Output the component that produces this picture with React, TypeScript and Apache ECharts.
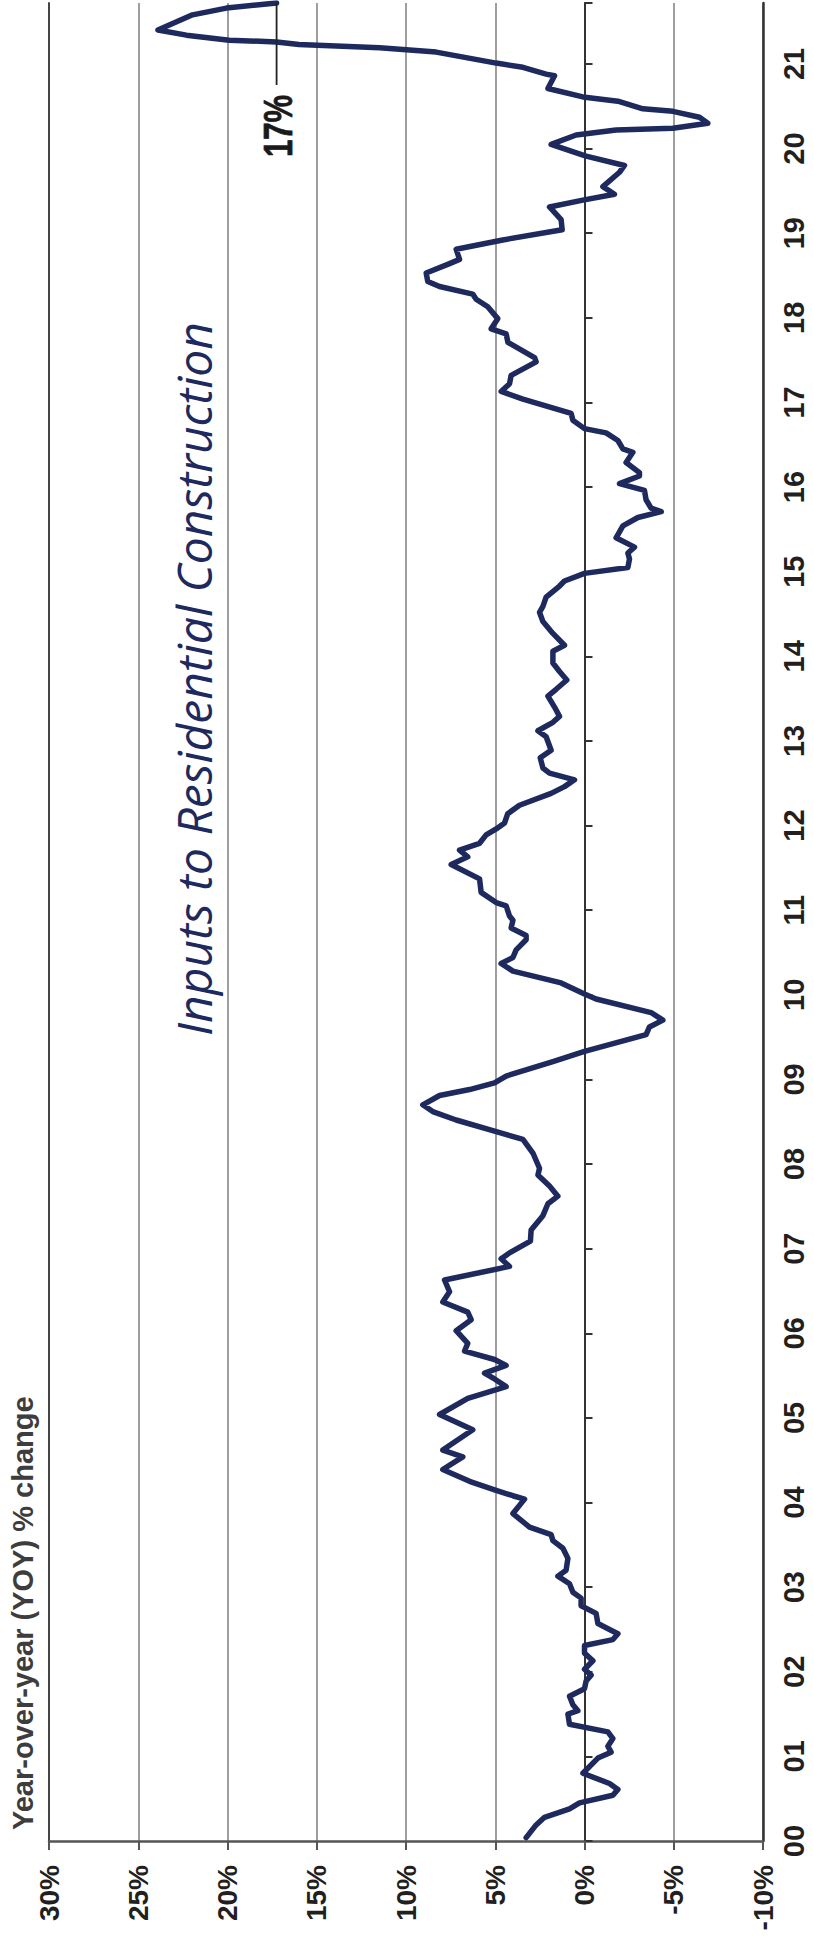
import { useEffect, useRef } from "react";
import * as echarts from "echarts";

// Decimal year of each observation (time runs bottom -> top in the picture)
const months: number[] = [
  2000.04, 2000.19, 2000.28, 2000.38, 2000.45, 2000.54, 2000.61, 2000.68, 2000.8, 2000.98,
  2001.05, 2001.12, 2001.21, 2001.29, 2001.38, 2001.5, 2001.54, 2001.61, 2001.71, 2001.8,
  2001.89, 2001.96, 2002.03, 2002.13, 2002.22, 2002.31, 2002.38, 2002.45, 2002.5, 2002.57,
  2002.69, 2002.78, 2002.87, 2002.94, 2003.04, 2003.13, 2003.2, 2003.34, 2003.46, 2003.55,
  2003.62, 2003.71, 2003.87, 2004.04, 2004.08, 2004.15, 2004.25, 2004.39, 2004.54, 2004.62,
  2004.86, 2005.04, 2005.23, 2005.37, 2005.46, 2005.53, 2005.62, 2005.69, 2005.79, 2005.88,
  2006.03, 2006.16, 2006.25, 2006.37, 2006.49, 2006.63, 2006.79, 2006.88, 2006.95, 2007.09,
  2007.22, 2007.39, 2007.53, 2007.62, 2007.74, 2007.87, 2007.95, 2008.13, 2008.29, 2008.39,
  2008.52, 2008.62, 2008.7, 2008.81, 2008.88, 2008.96, 2009.04, 2009.21, 2009.33, 2009.53,
  2009.62, 2009.7, 2009.79, 2009.95, 2010.01, 2010.14, 2010.28, 2010.37, 2010.44, 2010.53,
  2010.65, 2010.7, 2010.79, 2010.88, 2010.93, 2011.05, 2011.09, 2011.21, 2011.37, 2011.54,
  2011.63, 2011.71, 2011.79, 2011.89, 2011.96, 2012.03, 2012.14, 2012.24, 2012.38, 2012.46,
  2012.54, 2012.62, 2012.68, 2012.8, 2012.89, 2013.05, 2013.12, 2013.22, 2013.29, 2013.4,
  2013.53, 2013.61, 2013.72, 2013.82, 2013.92, 2014.06, 2014.13, 2014.27, 2014.41, 2014.52,
  2014.59, 2014.7, 2014.83, 2014.89, 2014.98, 2015.05, 2015.15, 2015.22, 2015.29, 2015.4,
  2015.54, 2015.64, 2015.71, 2015.75, 2015.85, 2015.96, 2016.04, 2016.13, 2016.17, 2016.29,
  2016.41, 2016.45, 2016.55, 2016.64, 2016.69, 2016.79, 2016.87, 2017.04, 2017.13, 2017.22,
  2017.32, 2017.48, 2017.53, 2017.71, 2017.81, 2017.87, 2017.99, 2018.13, 2018.22, 2018.28,
  2018.37, 2018.43, 2018.53, 2018.64, 2018.69, 2018.81, 2018.92, 2019.04, 2019.16, 2019.31,
  2019.39, 2019.46, 2019.55, 2019.72, 2019.8, 2019.91, 2019.97, 2020.05, 2020.16, 2020.22,
  2020.24, 2020.3, 2020.37, 2020.44, 2020.47, 2020.56, 2020.61, 2020.71, 2020.86, 2020.88,
  2020.96, 2021.01, 2021.14, 2021.19, 2021.23, 2021.26, 2021.28, 2021.34, 2021.4, 2021.58,
  2021.66, 2021.72,
];

// Year-over-year % change, one value per entry of `months`
const yoyChange: number[] = [
  3.27, 2.71, 2.24, 0.84, 0.28, -1.59, -1.87, -1.4, 0.09, -0.75,
  -1.49, -1.31, -1.59, -1.31, 0.84, 0.93, 0.37, 0.65, 0.84, 0.0,
  -0.09, -0.37, 0.0, -0.47, 0.0, 0.0, -1.59, -1.87, -1.4, -0.75,
  -0.65, 0.19, 0.19, 0.65, 0.84, 1.49, 1.03, 0.93, 1.21, 1.77,
  1.87, 3.08, 4.01, 3.36, 4.01, 5.04, 6.44, 7.94, 6.82, 7.94,
  6.26, 8.12, 6.54, 4.39, 5.04, 5.6, 4.39, 5.04, 6.72, 6.54,
  7.19, 6.35, 6.54, 7.94, 7.56, 7.84, 4.2, 4.67, 4.2, 3.03,
  2.99, 2.33, 2.05, 1.49, 1.96, 2.61, 2.52, 2.89, 3.45, 5.04,
  7.19, 8.5, 9.06, 8.12, 6.44, 5.04, 4.39, 1.77, 0.0, -3.45,
  -3.64, -4.39, -3.73, -0.65, 0.0, 1.31, 4.01, 4.67, 4.01, 3.83,
  3.27, 3.27, 4.11, 4.01, 4.2, 4.39, 4.95, 5.79, 5.88, 7.47,
  6.54, 7.0, 5.88, 5.51, 4.95, 4.48, 4.3, 3.64, 1.87, 1.12,
  0.56, 1.96, 2.33, 2.48, 1.87, 2.15, 2.61, 1.77, 1.4, 1.68,
  2.05, 1.59, 0.99, 1.4, 1.77, 1.77, 1.12, 1.77, 2.33, 2.52,
  2.33, 2.15, 1.4, 1.12, 0.0, -2.43, -2.52, -2.43, -2.8, -1.77,
  -2.15, -2.99, -4.3, -3.73, -3.45, -3.36, -1.96, -3.08, -3.08, -2.33,
  -2.71, -2.15, -1.87, -1.21, 0.0, 0.65, 0.75, 3.45, 4.67, 4.2,
  4.11, 2.71, 2.8, 4.29, 4.39, 5.23, 4.86, 5.42, 6.07, 6.26,
  8.12, 8.78, 8.87, 7.56, 7.0, 7.19, 4.58, 1.25, 1.31, 1.96,
  0.09, -1.68, -1.03, -1.96, -2.24, -0.09, 0.75, 1.87, 0.47, -1.77,
  -4.95, -6.91, -6.44, -4.95, -3.27, -1.87, 0.09, 2.05, 1.68, 2.15,
  3.45, 4.95, 8.31, 11.48, 16.0, 17.25, 19.9, 22.3, 23.9, 21.96,
  20.06, 17.25,
];

const percentRange = [-10, 30];
const percentStep = 5;
const yearRange = [2000, 2021.72];

const titleText = "Year-over-year (YOY) % change";
const seriesTitle = "Inputs to Residential Construction";

const LABEL_FONT = "'Liberation Sans', Arial, sans-serif";
const LINE_COLOR = "#1e2a5e";

export default function App() {
  const ref = useRef<HTMLDivElement>(null);

  useEffect(() => {
    if (!ref.current) return;
    const chart = echarts.init(ref.current, undefined, { renderer: "svg" });
    const data = months.map((t, i) => [yoyChange[i], t]);

    const yearFmt = (v: number) =>
      Math.abs(v - Math.round(v)) < 1e-6 ? String(Math.round(v) % 100).padStart(2, "0") : "";

    chart.setOption({
      animation: false,
      backgroundColor: "#ffffff",
      grid: { left: 49, right: 51, top: 0, bottom: 103, containLabel: false },
      xAxis: {
        type: "value",
        min: percentRange[0],
        max: percentRange[1],
        interval: percentStep,
        inverse: true,
        position: "bottom",
        axisLine: { show: true, onZero: false, lineStyle: { color: "#555555", width: 2.5 } },
        axisTick: { show: true, length: 9, lineStyle: { color: "#555555", width: 2 } },
        axisLabel: {
          rotate: 90,
          margin: 24,
          formatter: (v: number) => `${v}%`,
          fontFamily: LABEL_FONT,
          fontWeight: "bold",
          fontSize: 28,
          color: "#231f20",
        },
        splitLine: { show: true, lineStyle: { color: "#8e8e8e", width: 1.7 } },
      },
      yAxis: [
        {
          type: "value",
          min: yearRange[0],
          max: yearRange[1],
          interval: 1,
          position: "right",
          axisLine: { show: true, onZero: true, lineStyle: { color: "#333333", width: 2 } },
          axisTick: { show: true, length: 8, lineStyle: { color: "#333333", width: 2 } },
          axisLabel: { show: false },
          splitLine: { show: false },
        },
        {
          type: "value",
          min: yearRange[0],
          max: yearRange[1],
          interval: 1,
          position: "right",
          axisLine: { show: true, onZero: false, lineStyle: { color: "#333333", width: 2.5 } },
          axisTick: { show: false },
          axisLabel: {
            rotate: 90,
            margin: 16,
            formatter: yearFmt,
            fontFamily: LABEL_FONT,
            fontWeight: "bold",
            fontSize: 29,
            color: "#231f20",
          },
          splitLine: { show: false },
        },
        {
          type: "value",
          min: yearRange[0],
          max: yearRange[1],
          position: "left",
          axisLine: { show: true, onZero: false, lineStyle: { color: "#444444", width: 2 } },
          axisTick: { show: false },
          axisLabel: { show: false },
          splitLine: { show: false },
        },
      ],
      series: [
        {
          type: "line",
          xAxisIndex: 0,
          yAxisIndex: 0,
          data,
          showSymbol: false,
          symbol: "none",
          smooth: false,
          lineStyle: { color: LINE_COLOR, width: 5.5, cap: "round", join: "round" },
          z: 5,
        },
      ],
    });

    const n = months.length;
    const lastPt = chart.convertToPixel({ xAxisIndex: 0, yAxisIndex: 0 }, [yoyChange[n - 1], months[n - 1]]) as number[];
    const px = lastPt[0];
    const py = lastPt[1];

    chart.setOption({
      graphic: [
        {
          id: "title",
          type: "text",
          x: 23,
          y: 1830,
          rotation: Math.PI / 2,
          style: {
            text: titleText,
            fontFamily: "'Liberation Sans', Arial, sans-serif",
            fontWeight: "bold",
            fontSize: 29,
            fill: "#3d3d3d",
            align: "left",
            verticalAlign: "middle",
          },
        },
        {
          id: "seriesTitle",
          type: "text",
          x: 193,
          y: 679,
          rotation: Math.PI / 2,
          style: {
            text: seriesTitle,
            fontFamily: "'Open Sans', sans-serif",
            fontStyle: "italic",
            fontSize: 48,
            fill: LINE_COLOR,
            align: "center",
            verticalAlign: "middle",
          },
        },
        {
          id: "leader",
          type: "line",
          shape: { x1: px, y1: py, x2: px, y2: py + 82 },
          style: { stroke: "#222222", lineWidth: 1.8 },
          z: 10,
        },
        {
          id: "lastLabel",
          type: "text",
          x: px + 1,
          y: py + 154,
          rotation: Math.PI / 2,
          scaleY: 1.3,
          style: {
            text: `${Math.round(yoyChange[n - 1])}%`,
            fontFamily: LABEL_FONT,
            fontWeight: "bold",
            fontSize: 31,
            fill: "#1a1a1a",
            stroke: "#1a1a1a",
            lineWidth: 0.6,
            align: "left",
            verticalAlign: "middle",
          },
          z: 10,
        },
      ],
    });

    return () => chart.dispose();
  }, []);

  return (
    <div
      ref={ref}
      style={{ position: "absolute", left: 0, top: 0, width: 814, height: 1944, background: "#ffffff" }}
    />
  );
}
